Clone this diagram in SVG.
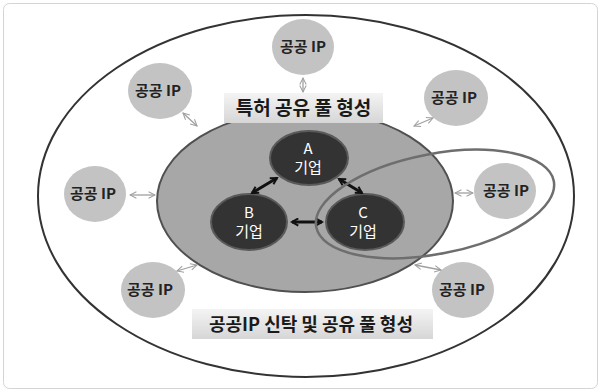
<svg xmlns="http://www.w3.org/2000/svg" width="601" height="392" viewBox="0 0 601 392">
<defs>
<style>
.ip{fill:#c3c3c3;stroke:none}
.ipt{font-family:"Noto Sans CJK KR","Noto Sans",sans-serif;font-size:15px;font-weight:bold;fill:#222;text-anchor:middle}
.co{fill:#333;stroke:#5a5a5a;stroke-width:2}
.cot{font-family:"Noto Sans CJK KR","Noto Sans",sans-serif;font-size:15px;fill:#fff;text-anchor:middle}
.lbl{font-family:"Noto Sans CJK KR","Noto Sans",sans-serif;font-weight:bold;fill:#1a1a1a;text-anchor:middle}
.thin{stroke:#a0a0a0;stroke-width:1.3;fill:none;marker-start:url(#oa);marker-end:url(#oa)}
.thick{stroke:#111;stroke-width:3;fill:none;marker-start:url(#ka);marker-end:url(#ka)}
</style>
<marker id="oa" viewBox="0 0 10 10" refX="9" refY="5" markerWidth="8" markerHeight="8" orient="auto-start-reverse" markerUnits="userSpaceOnUse">
<path d="M1,1 L9,5 L1,9" fill="none" stroke="#a0a0a0" stroke-width="1.3"/>
</marker>
<marker id="ka" viewBox="0 0 10 10" refX="8" refY="5" markerWidth="9" markerHeight="9" orient="auto-start-reverse" markerUnits="userSpaceOnUse">
<path d="M1,1 L8,5 L1,9" fill="none" stroke="#111" stroke-width="2.2"/>
</marker>
<linearGradient id="lg" x1="0" y1="0" x2="0" y2="1">
<stop offset="0" stop-color="#f4f4f4"/>
<stop offset="1" stop-color="#d6d6d6"/>
</linearGradient>
</defs>
<rect x="3.5" y="3.5" width="594" height="385" rx="6" fill="#fff" stroke="#d4d4d4" stroke-width="1"/>
<g id="outer">
<ellipse cx="306" cy="196" rx="268" ry="181" fill="#fff" stroke="#333" stroke-width="2"/>
</g>
<g id="pool">
<ellipse cx="305" cy="201" rx="148" ry="91" fill="#a7a7a7" stroke="#505050" stroke-width="2"/>
</g>
<g id="label-top">
<rect x="224" y="93" width="159" height="30" fill="url(#lg)"/>
<text class="lbl" x="303.5" y="115" font-size="19">특허 공유 풀 형성</text>
</g>
<g id="label-bottom">
<rect x="192" y="309" width="241" height="30" fill="url(#lg)"/>
<text class="lbl" x="311" y="331" font-size="18">공공IP 신탁 및 공유 풀 형성</text>
</g>
<g id="ip-top"><ellipse class="ip" cx="303" cy="47" rx="31" ry="28"/><text class="ipt" x="303" y="52">공공 IP</text></g>
<g id="ip-ul"><ellipse class="ip" cx="160" cy="91" rx="32" ry="28"/><text class="ipt" x="158" y="96">공공 IP</text></g>
<g id="ip-ur"><ellipse class="ip" cx="456" cy="98" rx="32" ry="28"/><text class="ipt" x="454" y="103">공공 IP</text></g>
<g id="ip-l"><ellipse class="ip" cx="95" cy="194" rx="31" ry="28"/><text class="ipt" x="93" y="199">공공 IP</text></g>
<g id="ip-r"><ellipse class="ip" cx="505" cy="191" rx="31" ry="28"/><text class="ipt" x="506" y="196">공공 IP</text></g>
<g id="ip-ll"><ellipse class="ip" cx="153" cy="290" rx="32" ry="28"/><text class="ipt" x="150" y="295">공공 IP</text></g>
<g id="ip-lr"><ellipse class="ip" cx="463" cy="290" rx="31" ry="28"/><text class="ipt" x="462" y="295">공공 IP</text></g>
<g id="corp-a"><ellipse class="co" cx="309" cy="158" rx="39" ry="27"/><text class="cot" x="308" y="154">A</text><text class="cot" x="308" y="173">기업</text></g>
<g id="corp-b"><ellipse class="co" cx="249" cy="222" rx="38" ry="28"/><text class="cot" x="249" y="218">B</text><text class="cot" x="249" y="237">기업</text></g>
<g id="corp-c"><ellipse class="co" cx="365" cy="222" rx="39" ry="28"/><text class="cot" x="363" y="218">C</text><text class="cot" x="363" y="237">기업</text></g>
<g id="connectors">
<line class="thin" x1="303" y1="78" x2="303" y2="92"/>
<line class="thin" x1="183" y1="113" x2="197" y2="126"/>
<line class="thin" x1="414" y1="126" x2="433" y2="118"/>
<line class="thin" x1="130" y1="195" x2="155" y2="195"/>
<line class="thin" x1="455" y1="193" x2="473" y2="193"/>
<line class="thin" x1="177" y1="271" x2="197" y2="265"/>
<line class="thin" x1="415" y1="265" x2="441" y2="270"/>
<line class="thick" x1="277" y1="178" x2="252" y2="193"/>
<line class="thick" x1="339" y1="179" x2="362" y2="193"/>
<line class="thick" x1="292" y1="222" x2="322" y2="222"/>
</g>
<g id="highlight">
<ellipse cx="435" cy="204" rx="121" ry="50" transform="rotate(-11 435 204)" fill="none" stroke="#6e6e6e" stroke-width="2.5"/>
</g>
</svg>
